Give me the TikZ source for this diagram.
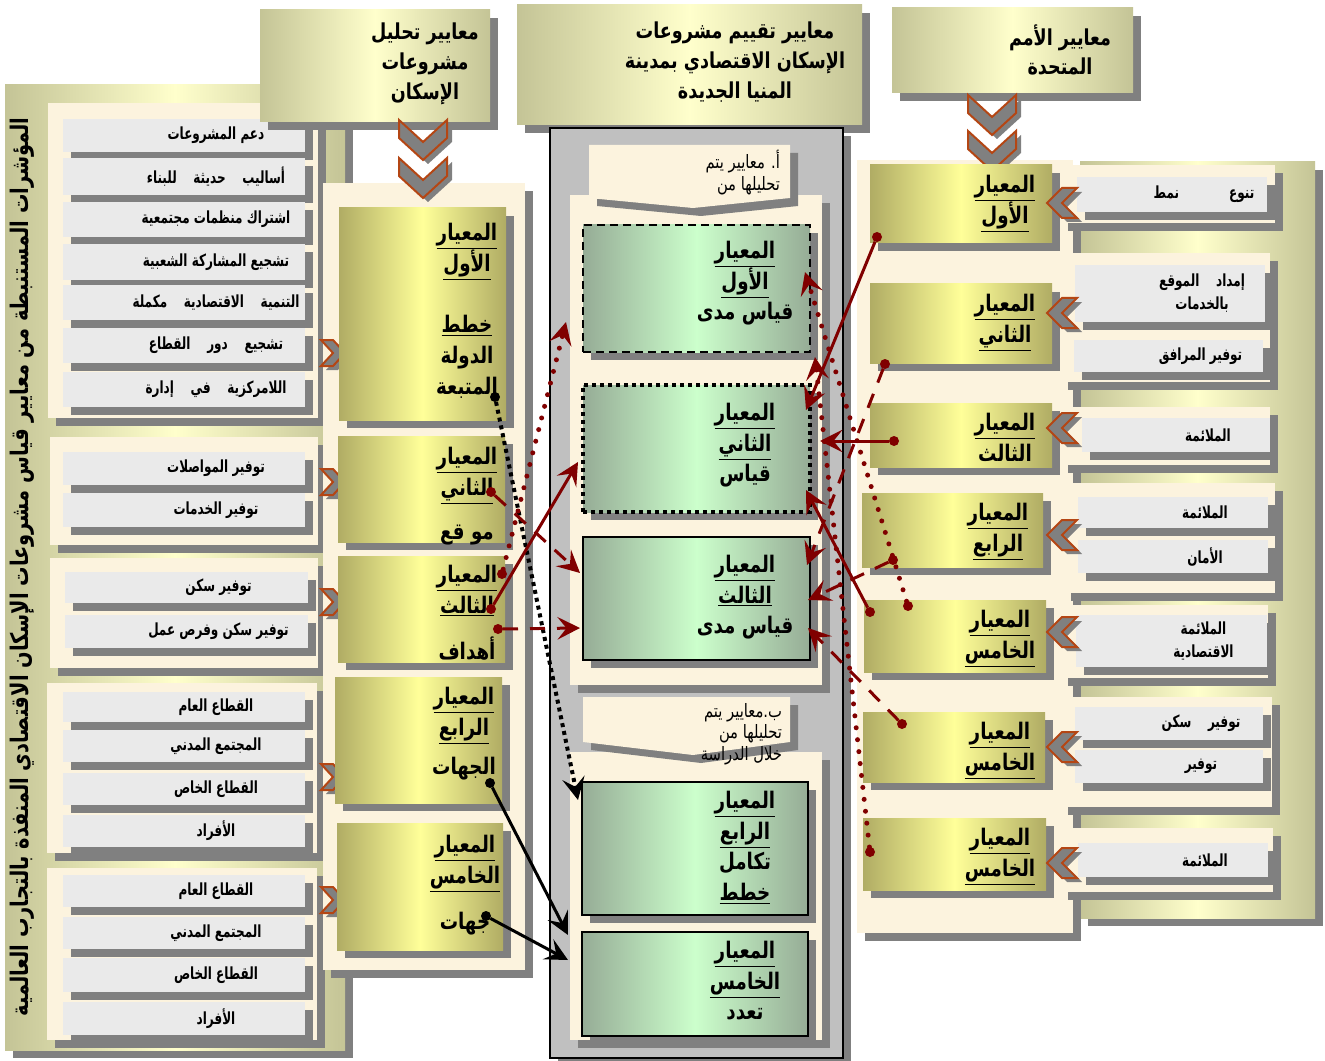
\documentclass[tikz,border=0pt]{standalone}
\usepackage{fontspec}
\newfontfamily\arabicfont[Script=Arabic, FakeStretch=0.8]{DejaVu Sans}
\newfontfamily\arabicnarrow[Script=Arabic, FakeStretch=0.72]{DejaVu Sans}
\TeXXeTstate=1
\usetikzlibrary{arrows.meta}
\definecolor{creamfill}{RGB}{252,243,222}
\definecolor{itemgrey}{RGB}{234,234,234}
\definecolor{shadowgrey}{RGB}{128,128,128}
\definecolor{olivedark}{RGB}{176,172,100}
\definecolor{paleyellow}{RGB}{255,255,153}
\definecolor{bandolive}{RGB}{196,196,150}
\definecolor{bandyellow}{RGB}{255,255,204}
\definecolor{greendark}{RGB}{150,172,150}
\definecolor{palegreen}{RGB}{204,255,204}
\definecolor{panelgrey}{RGB}{192,192,192}
\definecolor{chevorange}{RGB}{180,70,20}
\newcommand{\linkred}{red!50!black}
\newcommand{\ar}[1]{\beginR #1\endR}
\newcommand{\arul}[1]{\underline{\beginR #1\endR}}
% box with its shadow: name, style, x1, y1, x2, y2
\newcommand{\panel}[6]{%
  \fill[shadowgrey] ({#3+8},{#4+8}) rectangle ({#5+8},{#6+8});
  \node[#2, minimum width={(#5-#3)*0.2mm}, minimum height={(#6-#4)*0.2mm}] (#1) at ({(#3+#5)/2},{(#4+#6)/2}) {};}
% grey item with text: name, x1, y1, x2, y2, text
\newcommand{\itembox}[6]{%
  \panel{#1}{itembox}{#2}{#3}{#4}{#5}
  \node[itemtxt] (#1t) at ({(#2+#4)/2+32},{(#3+#5)/2}) {#6};}
\tikzstyle{every node}=[inner sep=0, outer sep=0]
\tikzstyle{cream}=[fill=creamfill]
\tikzstyle{itembox}=[fill=itemgrey]
\tikzstyle{yellowbox}=[left color=olivedark, right color=olivedark, middle color=paleyellow]
\tikzstyle{bandbox}=[left color=bandolive, right color=bandolive, middle color=bandyellow]
\tikzstyle{greenbox}=[left color=greendark, right color=greendark, middle color=palegreen, draw=black, line width=0.45mm]
\tikzstyle{greybox}=[fill=panelgrey, draw=black, line width=0.4mm]
\tikzstyle{headtxt}=[font=\arabicfont\bfseries\fontsize{12.5}{17}\selectfont, align=center]
\tikzstyle{boxtxt}=[font=\arabicfont\bfseries\fontsize{13}{17.5}\selectfont, align=center, anchor=north, yshift=-1mm]
\tikzstyle{itemtxt}=[font=\arabicnarrow\bfseries\fontsize{9.5}{13}\selectfont, align=center]
\tikzstyle{notetxt}=[font=\arabicfont\fontsize{10.5}{12.5}\selectfont, align=right, anchor=north east]
\tikzstyle{dot}=[circle, fill=\linkred, minimum size=2mm]
\tikzstyle{blackdot}=[circle, fill=black, minimum size=2mm]
\tikzstyle{linktip}=[-{Stealth[length=4.5mm,width=4.5mm,inset=1.8mm]}]
\tikzstyle{redline}=[draw=\linkred, line width=0.6mm, linktip]
\tikzstyle{reddash}=[redline, dash pattern=on 3mm off 2.4mm]
\tikzstyle{reddots}=[redline, line width=1mm, line cap=round, dash pattern=on 0pt off 2.4mm]
\tikzstyle{blackline}=[draw=black, line width=0.6mm, linktip]
\tikzstyle{blackdots}=[blackline, line width=0.8mm, dash pattern=on 0.8mm off 0.8mm]
\tikzset{
  rchev/.pic={
    \fill[shadowgrey, shift={(5,4)}] (-12,-13) -- (0,-13) -- (12,0) -- (0,13) -- (-12,13) -- (0,0) -- cycle;
    \filldraw[fill=shadowgrey, draw=chevorange, line width=0.4mm] (-12,-13) -- (0,-13) -- (12,0) -- (0,13) -- (-12,13) -- (0,0) -- cycle;},
  lchev/.pic={
    \fill[shadowgrey, shift={(5,4)}] (15,-15) -- (0,-15) -- (-15,0) -- (0,15) -- (15,15) -- (0,0) -- cycle;
    \filldraw[fill=shadowgrey, draw=chevorange, line width=0.4mm] (15,-15) -- (0,-15) -- (-15,0) -- (0,15) -- (15,15) -- (0,0) -- cycle;},
  dchev/.pic={
    \fill[shadowgrey, shift={(5,4)}] (-24,0) -- (0,22) -- (24,0) -- (24,18) -- (0,40) -- (-24,18) -- cycle;
    \filldraw[fill=shadowgrey, draw=chevorange, line width=0.4mm] (-24,0) -- (0,22) -- (24,0) -- (24,18) -- (0,40) -- (-24,18) -- cycle;}
}

\begin{document}
\begin{tikzpicture}[x=0.2mm, y=-0.2mm]
    \useasboundingbox (0,0) rectangle (1325,1061);
    \fill[white] (0,0) rectangle (1325,1061);

    % left band
    \panel{leftband}{bandbox}{5}{85}{345}{1050}
    \node[headtxt, font=\arabicfont\bfseries\fontsize{13.8}{16}\selectfont, rotate=90] (lefttitle) at (22,567) {\ar{المؤشرات المستنبطة من معايير قياس مشروعات الإسكان الاقتصادي المنفذة بالتجارب العالمية}};

    \panel{lg1}{cream}{48}{103}{318}{418}
    \itembox{l1}{63}{119}{305}{152}{\ar{دعم المشروعات}}
    \itembox{l2}{63}{158}{305}{195}{\ar{أساليب\quad حديثة\quad للبناء}}
    \itembox{l3}{63}{202}{305}{237}{\ar{اشتراك منظمات مجتمعية}}
    \itembox{l4}{63}{244}{305}{280}{\ar{تشجيع المشاركة الشعبية}}
    \itembox{l5}{63}{285}{305}{320}{\ar{التنمية\quad الاقتصادية\quad مكملة}}
    \itembox{l6}{63}{328}{305}{363}{\ar{تشجيع\quad دور\quad القطاع}}
    \itembox{l7}{63}{372}{305}{407}{\ar{اللامركزية\quad في\quad إدارة}}
    \panel{lg2}{cream}{50}{437}{318}{545}
    \itembox{l8}{63}{452}{305}{485}{\ar{توفير المواصلات}}
    \itembox{l9}{63}{493}{305}{527}{\ar{توفير الخدمات}}
    \panel{lg3}{cream}{50}{558}{318}{668}
    \itembox{l10}{65}{572}{308}{603}{\ar{توفير سكن}}
    \itembox{l11}{65}{615}{308}{648}{\ar{توفير سكن وفرص عمل}}
    \panel{lg4}{cream}{47}{683}{317}{853}
    \itembox{l12}{63}{692}{305}{722}{\ar{القطاع العام}}
    \itembox{l13}{63}{730}{305}{762}{\ar{المجتمع المدني}}
    \itembox{l14}{63}{773}{305}{805}{\ar{القطاع الخاص}}
    \itembox{l15}{63}{815}{305}{847}{\ar{الأفراد}}
    \panel{lg5}{cream}{47}{868}{317}{1040}
    \itembox{l16}{63}{875}{305}{907}{\ar{القطاع العام}}
    \itembox{l17}{63}{917}{305}{949}{\ar{المجتمع المدني}}
    \itembox{l18}{63}{958}{305}{992}{\ar{القطاع الخاص}}
    \itembox{l19}{63}{1002}{305}{1035}{\ar{الأفراد}}

    % analysis column
    \panel{head2}{bandbox}{260}{10}{490}{122}
    \node[headtxt] (head2t) at (425,64) {\ar{معايير تحليل}\\\ar{مشروعات}\\\ar{الإسكان}};
    \panel{col2}{cream}{323}{183}{525}{970}
    \pic at (423,120) {dchev};
    \pic at (423,158) {dchev};
    \pic at (333,353) {rchev};
    \pic at (333,482) {rchev};
    \pic at (333,602) {rchev};
    \pic at (333,777) {rchev};
    \pic at (333,900) {rchev};
    \panel{b1}{yellowbox}{339}{208}{506}{420}
    \node[boxtxt] (b1t) at (467,218) {\arul{المعيار}\\\arul{الأول}\\[17.5pt]\arul{خطط}\\\ar{الدولة}\\\ar{المتبعة}};
    \panel{b2}{yellowbox}{338}{436}{505}{542}
    \node[boxtxt] (b2t) at (467,442) {\arul{المعيار}\\\arul{الثاني}\\[8pt]\ar{مو قع}};
    \panel{b3}{yellowbox}{338}{556}{505}{662}
    \node[boxtxt] (b3t) at (467,560) {\arul{المعيار}\\\arul{الثالث}\\[9pt]\ar{أهداف}};
    \panel{b4}{yellowbox}{335}{677}{502}{803}
    \node[boxtxt] (b4t) at (464,682) {\arul{المعيار}\\\arul{الرابع}\\[5pt]\ar{الجهات}};
    \panel{b5}{yellowbox}{337}{823}{503}{950}
    \node[boxtxt] (b5t) at (465,830) {\arul{المعيار}\\\arul{الخامس}\\[9pt]\ar{جهات}};

    % evaluation column
    \panel{head3}{bandbox}{517}{5}{862}{125}
    \node[headtxt] (head3t) at (735,62) {\ar{معايير تقييم مشروعات}\\\ar{الإسكان الاقتصادي بمدينة}\\\ar{المنيا الجديدة}};
    \panel{midpanel}{greybox}{550}{128}{843}{1058}
    \panel{midtop}{cream}{570}{195}{822}{685}
    \fill[shadowgrey] (597,153) -- (798,153) -- (798,206) -- (701,216) -- (597,206) -- cycle;
    \fill[creamfill] (589,145) -- (790,145) -- (790,198) -- (693,208) -- (589,198) -- cycle;
    \node[notetxt] (nota) at (780,150) {\ar{أ. معايير يتم}\\\ar{تحليلها من}};
    \panel{g1}{greenbox, dash pattern=on 1.6mm off 1mm}{583}{225}{810}{352}
    \node[boxtxt] (g1t) at (745,236) {\arul{المعيار}\\\arul{الأول}\\\ar{قياس مدى}};
    \panel{g2}{greenbox, line width=0.7mm, dash pattern=on 0.8mm off 0.8mm}{583}{385}{810}{512}
    \node[boxtxt] (g2t) at (745,398) {\arul{المعيار}\\\arul{الثاني}\\\ar{قياس}};
    \panel{g3}{greenbox}{583}{537}{810}{660}
    \node[boxtxt] (g3t) at (745,550) {\arul{المعيار}\\\arul{الثالث}\\\ar{قياس مدى}};
    \panel{midbot}{cream}{570}{752}{822}{1040}
    \fill[shadowgrey] (591,705) -- (798,705) -- (798,750) -- (701,763) -- (591,750) -- cycle;
    \fill[creamfill] (583,697) -- (790,697) -- (790,742) -- (693,755) -- (583,742) -- cycle;
    \node[notetxt] (notb) at (782,703) {\ar{ب.معايير يتم}\\\ar{تحليلها من}\\\ar{خلال الدراسة}};
    \panel{g4}{greenbox}{582}{782}{808}{915}
    \node[boxtxt] (g4t) at (745,786) {\arul{المعيار}\\\arul{الرابع}\\\ar{تكامل}\\\arul{خطط}};
    \panel{g5}{greenbox}{582}{932}{808}{1036}
    \node[boxtxt] (g5t) at (745,936) {\arul{المعيار}\\\arul{الخامس}\\\ar{تعدد}};

    % United Nations column
    \panel{head4}{bandbox}{892}{8}{1133}{93}
    \node[headtxt] (head4t) at (1060,50) {\ar{معايير الأمم}\\\ar{المتحدة}};
    \panel{rightband}{bandbox}{1080}{162}{1315}{918}
    \panel{rightcol}{cream}{857}{160}{1073}{933}
    \pic at (992,95) {dchev};
    \pic at (992,131) {dchev};
    \panel{r1}{yellowbox}{870}{165}{1052}{243}
    \node[boxtxt] (r1t) at (1005,170) {\arul{المعيار}\\\arul{الأول}};
    \panel{r2}{yellowbox}{870}{284}{1052}{363}
    \node[boxtxt] (r2t) at (1005,289) {\arul{المعيار}\\\arul{الثاني}};
    \panel{r3}{yellowbox}{870}{403}{1052}{467}
    \node[boxtxt] (r3t) at (1005,408) {\arul{المعيار}\\\ar{الثالث}};
    \panel{r4}{yellowbox}{862}{493}{1043}{567}
    \node[boxtxt] (r4t) at (998,498) {\arul{المعيار}\\\arul{الرابع}};
    \panel{r5}{yellowbox}{864}{600}{1046}{672}
    \node[boxtxt] (r5t) at (1000,605) {\arul{المعيار}\\\arul{الخامس}};
    \panel{r6}{yellowbox}{863}{712}{1045}{782}
    \node[boxtxt] (r6t) at (1000,717) {\arul{المعيار}\\\arul{الخامس}};
    \panel{r7}{yellowbox}{863}{818}{1046}{890}
    \node[boxtxt] (r7t) at (1000,823) {\arul{المعيار}\\\arul{الخامس}};

    \panel{rg1}{cream}{1060}{165}{1275}{223}
    \itembox{q1}{1077}{177}{1267}{212}{\ar{تنوع\qquad\quad نمط}}
    \panel{rg2}{cream}{1060}{253}{1270}{382}
    \itembox{q2}{1075}{265}{1265}{322}{\ar{إمداد\quad الموقع}\\\ar{بالخدمات}}
    \itembox{q3}{1074}{340}{1263}{372}{\ar{توفير المرافق}}
    \panel{rg3}{cream}{1060}{407}{1270}{465}
    \itembox{q4}{1082}{418}{1270}{452}{\ar{الملائمة}}
    \panel{rg4}{cream}{1063}{483}{1275}{593}
    \itembox{q5}{1078}{497}{1268}{528}{\ar{الملائمة}}
    \itembox{q6}{1078}{540}{1268}{573}{\ar{الأمان}}
    \panel{rg5}{cream}{1060}{605}{1268}{678}
    \itembox{q7}{1076}{615}{1267}{667}{\ar{الملائمة}\\\ar{الاقتصادية}}
    \panel{rg6}{cream}{1060}{697}{1272}{807}
    \itembox{q8}{1075}{707}{1263}{740}{\ar{توفير\quad سكن}}
    \itembox{q9}{1075}{750}{1263}{783}{\ar{توفير}}
    \panel{rg7}{cream}{1060}{828}{1273}{892}
    \itembox{q10}{1078}{843}{1268}{877}{\ar{الملائمة}}
    \pic at (1062,203) {lchev};
    \pic at (1062,313) {lchev};
    \pic at (1062,428) {lchev};
    \pic at (1062,535) {lchev};
    \pic at (1062,632) {lchev};
    \pic at (1062,747) {lchev};
    \pic at (1062,863) {lchev};

    % start dots
    \node[blackdot] (db1) at (495,397) {};
    \node[dot] (db2) at (491,492) {};
    \node[dot] (db3a) at (502,574) {};
    \node[dot] (db3b) at (491,609) {};
    \node[dot] (db3c) at (498,629) {};
    \node[blackdot] (db4) at (490,783) {};
    \node[blackdot] (db5) at (486,916) {};
    \node[dot] (dr1) at (877,237) {};
    \node[dot] (dr2) at (885,364) {};
    \node[dot] (dr3) at (894,441) {};
    \node[dot] (dr4) at (893,560) {};
    \node[dot] (dr5a) at (870,612) {};
    \node[dot] (dr5b) at (908,606) {};
    \node[dot] (dr6) at (902,724) {};
    \node[dot] (dr7) at (870,852) {};
    % arrow ends
    \coordinate (eg1a) at (566,322);
    \coordinate (eg1b) at (805,272);
    \coordinate (eg1c) at (815,357);
    \coordinate (eg2a) at (578,462);
    \coordinate (eg2b) at (806,410);
    \coordinate (eg2c) at (820,441);
    \coordinate (eg2d) at (806,490);
    \coordinate (eg3a) at (580,573);
    \coordinate (eg3b) at (580,628);
    \coordinate (eg3c) at (807,565);
    \coordinate (eg3d) at (808,600);
    \coordinate (eg3e) at (808,628);
    \coordinate (eg4) at (578,800);
    \coordinate (eg5a) at (568,935);
    \coordinate (eg5b) at (568,960);

    \draw[blackdots] (db1) -- (eg4);
    \draw[reddots] (db3a) -- (eg1a);
    \draw[reddash] (db2) -- (eg3a);
    \draw[redline] (db3b) -- (eg2a);
    \draw[reddash] (db3c) -- (eg3b);
    \draw[blackline] (db4) -- (eg5a);
    \draw[blackline] (db5) -- (eg5b);
    \draw[redline] (dr1) -- (eg2b);
    \draw[reddash] (dr2) -- (eg3c);
    \draw[redline] (dr3) -- (eg2c);
    \draw[reddash] (dr4) -- (eg3d);
    \draw[redline] (dr5a) -- (eg2d);
    \draw[reddots] (dr5b) -- (eg1b);
    \draw[reddash] (dr6) -- (eg3e);
    \draw[reddots] (dr7) -- (eg1c);
\end{tikzpicture}
\end{document}
